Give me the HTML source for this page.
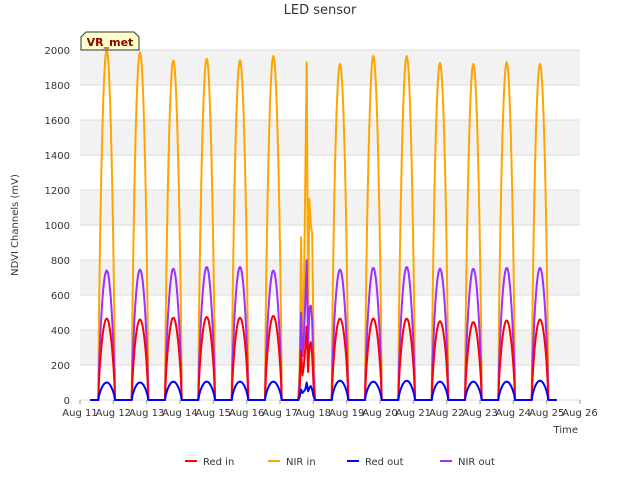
<!DOCTYPE html>
<html><head><meta charset="utf-8"><style>
body{margin:0;background:#fff;font-family:"Liberation Sans","DejaVu Sans",sans-serif;}
svg text{font-family:"DejaVu Sans","Liberation Sans",sans-serif;}
</style></head><body>
<svg id="c" width="640" height="480"></svg>
<script>
const days=[11,12,13,14,15,16,17,18,19,20,21,22,23,24,25,26];
const yTicks=[0,200,400,600,800,1000,1200,1400,1600,1800,2000];
const nirInPeaks=[2000,1985,1940,1950,1940,1965,0,1920,1965,1965,1925,1920,1930,1920];
const nirOutPeaks=[740,745,750,760,760,740,0,745,755,760,750,750,755,755];
const redInPeaks=[465,460,470,475,470,480,0,465,465,465,450,445,455,460];
const redOutPeaks=[100,100,105,105,105,105,0,110,105,110,105,105,105,110];
const noisyDay=6;
const noisyNirIn=[0,200,930,300,600,1260,1930,500,1150,1000,950,300,0];
const noisyNirOut=[0,120,500,250,360,560,800,300,530,540,450,150,0];
const noisyRedIn=[0,60,280,140,200,300,420,160,310,330,250,80,0];
const noisyRedOut=[0,20,60,40,50,60,100,50,70,80,60,20,0];
const ns="http://www.w3.org/2000/svg";
const svg=document.getElementById('c');
const X0=80,X1=580,Y0=400,Y1=50;
const xs=d=>X0+(d-11)/15*(X1-X0);
const ys=v=>Y0-v/2000*(Y0-Y1);
function el(t,a,p){const e=document.createElementNS(ns,t);for(const k in a)e.setAttribute(k,a[k]);(p||svg).appendChild(e);return e;}
for(let i=0;i<10;i++){
 if(i%2===1){const r=el('rect',{x:X0,y:ys(200*(i+1)),width:X1-X0,height:ys(200*i)-ys(200*(i+1)),fill:'#f2f2f2'});
 }
}
yTicks.forEach(v=>{const l=el('line',{x1:X0,x2:X1,y1:ys(v),y2:ys(v),stroke:'#dcdcdc','stroke-width':1});

const t=el('text',{x:X0-10,y:ys(v)+4,'text-anchor':'end','font-size':10,fill:'#333'});t.textContent=v;
});
days.forEach(d=>{const t=el('text',{x:xs(d),y:Y0+16,'text-anchor':'middle','font-size':10,fill:'#333'});t.textContent='Aug '+d;

const l=el('line',{x1:xs(d),x2:xs(d),y1:Y0,y2:Y0+4,stroke:'#999'});});
function series(peaks,noisy,color,name){
 let pts=[[xs(11.3),ys(0)]];
 peaks.forEach((p,i)=>{
  const s=11+i+0.55,e=11+i+1.05;
  if(i===noisyDay){noisy.forEach((v,k)=>pts.push([xs(s+(e-s)*k/(noisy.length-1)),ys(v)]));}
  else{for(let k=0;k<=24;k++){const t=k/24;pts.push([xs(s+(e-s)*t),ys(p*Math.pow(Math.sin(Math.PI*t),0.7))]);}}
 });
 pts.push([xs(25.3),ys(0)]);
 const pl=el('polyline',{points:pts.map(p=>p[0].toFixed(1)+','+p[1].toFixed(1)).join(' '),fill:'none',stroke:color,'stroke-width':2,'stroke-linejoin':'round'});
 
}
series(nirInPeaks,noisyNirIn,'#ffa500','series-nir-in');
series(nirOutPeaks,noisyNirOut,'#9b30ff','series-nir-out');
series(redInPeaks,noisyRedIn,'#ff0000','series-red-in');
series(redOutPeaks,noisyRedOut,'#0000ff','series-red-out');
let t=el('text',{x:320,y:14,'text-anchor':'middle','font-size':13,fill:'#333'});t.textContent='LED sensor';

t=el('text',{x:18,y:225,'text-anchor':'middle','font-size':10,fill:'#333',transform:'rotate(-90 18 225)'});t.textContent='NDVI Channels (mV)';

t=el('text',{x:578,y:433,'text-anchor':'end','font-size':10,fill:'#333'});t.textContent='Time';

const g=el('g',{});
el('path',{d:'M81,50 L81,37 L86,32 L134,32 L139,37 L139,50 Z',fill:'#ffffc8',stroke:'#333','stroke-width':1},g);
t=el('text',{x:110,y:46,'text-anchor':'middle','font-size':11,'font-weight':'bold',fill:'#8b0000'},g);t.textContent='VR_met';
const leg=[['Red in','#ff0000',185],['NIR in','#ffa500',268],['Red out','#0000ff',347],['NIR out','#9b30ff',440]];
leg.forEach(([n,c,x])=>{const gg=el('g',{});
el('line',{x1:x,x2:x+12,y1:461,y2:461,stroke:c,'stroke-width':2},gg);
const tt=el('text',{x:x+18,y:465,'font-size':10,fill:'#333'},gg);tt.textContent=n;});
</script>
</body></html>
